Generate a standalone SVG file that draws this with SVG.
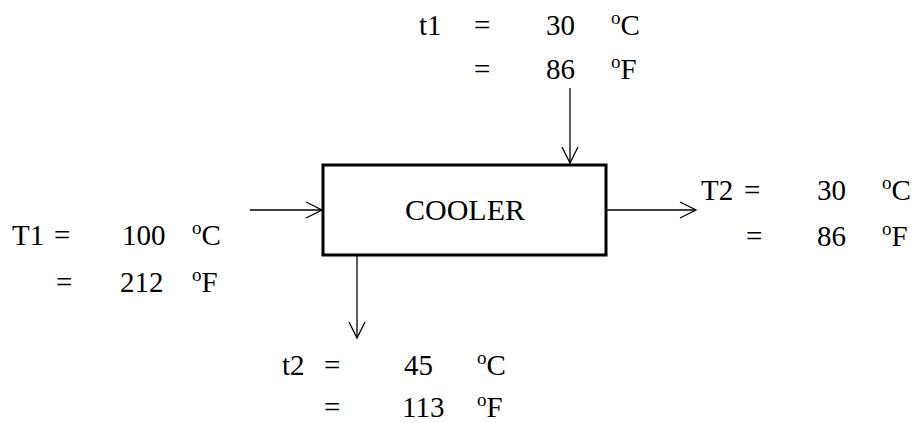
<svg xmlns="http://www.w3.org/2000/svg" width="914" height="423" viewBox="0 0 914 423">
<style>
text{font-family:'Liberation Serif','Times New Roman',Times,'DejaVu Serif',serif;font-size:29px;fill:#000}
.sup{font-size:19px}
.big{font-size:30px}
.box{fill:#fff;stroke:#000;stroke-width:3}
.conn line{stroke:#000;stroke-width:1.3;fill:none}
</style>
<defs>
<marker id="ah" markerUnits="userSpaceOnUse" markerWidth="20" markerHeight="20" viewBox="-18 -10 20 20" refX="0" refY="0" orient="auto">
<path d="M-16,-8 L0,0 L-16,8" fill="none" stroke="#000" stroke-width="1.3"/>
</marker>
</defs>
<g id="conns" class="conn">
<line x1="250" y1="210" x2="322" y2="210" marker-end="url(#ah)"/>
<line x1="570" y1="88" x2="570" y2="163" marker-end="url(#ah)"/>
<line x1="607" y1="210" x2="696" y2="210" marker-end="url(#ah)"/>
<line x1="357" y1="256" x2="357" y2="338" marker-end="url(#ah)"/>
</g>
<g id="cooler">
<rect class="box" x="323" y="165" width="283" height="90"/>
<text class="big" x="465" y="220" text-anchor="middle">COOLER</text>
</g>
<g id="t1">
<text x="419" y="35">t1</text>
<text x="474" y="35">=</text>
<text x="546" y="35">30</text>
<text x="611" y="35"><tspan class="sup" dy="-11">o</tspan><tspan dy="11">C</tspan></text>
<text x="474" y="79">=</text>
<text x="546" y="79">86</text>
<text x="611" y="79"><tspan class="sup" dy="-11">o</tspan><tspan dy="11">F</tspan></text>
</g>
<g id="T1">
<text x="12" y="245">T1</text>
<text x="54" y="245">=</text>
<text x="122" y="245">100</text>
<text x="192" y="245"><tspan class="sup" dy="-11">o</tspan><tspan dy="11">C</tspan></text>
<text x="56" y="292">=</text>
<text x="120" y="292">212</text>
<text x="192" y="292"><tspan class="sup" dy="-11">o</tspan><tspan dy="11">F</tspan></text>
</g>
<g id="T2">
<text x="701" y="200">T2</text>
<text x="744" y="200">=</text>
<text x="817" y="200">30</text>
<text x="882" y="200"><tspan class="sup" dy="-11">o</tspan><tspan dy="11">C</tspan></text>
<text x="746" y="246">=</text>
<text x="817" y="246">86</text>
<text x="882" y="246"><tspan class="sup" dy="-11">o</tspan><tspan dy="11">F</tspan></text>
</g>
<g id="t2">
<text x="282" y="375">t2</text>
<text x="324" y="375">=</text>
<text x="404" y="375">45</text>
<text x="477" y="375"><tspan class="sup" dy="-11">o</tspan><tspan dy="11">C</tspan></text>
<text x="324" y="417">=</text>
<text x="402" y="417">113</text>
<text x="477" y="417"><tspan class="sup" dy="-11">o</tspan><tspan dy="11">F</tspan></text>
</g>
</svg>
